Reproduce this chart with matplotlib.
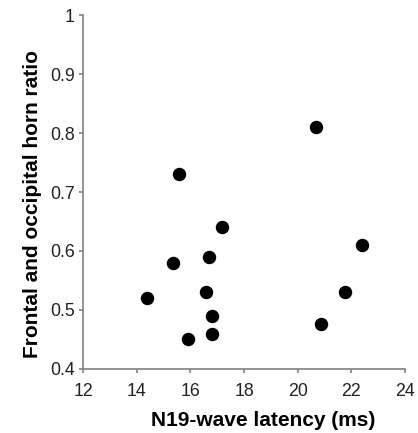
import matplotlib.pyplot as plt

plt.rcParams['font.family'] = ['Liberation Sans', 'DejaVu Sans']

latency = [14.37, 15.36, 15.59, 15.90, 16.59, 16.68, 16.79, 16.79, 17.16, 20.67, 20.88, 21.76, 22.38]
ratio = [0.52, 0.58, 0.73, 0.45, 0.53, 0.59, 0.49, 0.46, 0.64, 0.81, 0.476, 0.53, 0.61]

x_ticks = [12, 14, 16, 18, 20, 22, 24]
y_ticks = [0.4, 0.5, 0.6, 0.7, 0.8, 0.9, 1]
y_labels = ['0.4', '0.5', '0.6', '0.7', '0.8', '0.9', '1']

fig = plt.figure(figsize=(4.18, 4.33), dpi=100)
ax = fig.add_axes([0.199, 0.148, 0.77, 0.817])

ax.scatter(latency, ratio, s=75, color='black', zorder=3, clip_on=False)

ax.set_xlim(12, 24)
ax.set_ylim(0.4, 1)
ax.set_xticks(x_ticks)
ax.set_yticks(y_ticks)
ax.set_yticklabels(y_labels)

for side in ['top', 'right']:
    ax.spines[side].set_visible(False)
for side in ['left', 'bottom']:
    ax.spines[side].set_color('#808080')
    ax.spines[side].set_linewidth(1.2)

ax.tick_params(axis='both', colors='#808080', labelcolor='#222222', labelsize=12.8, length=3, width=1.2)
ax.tick_params(axis='y', pad=3)
ax.tick_params(axis='x', pad=7)

ax.set_xlabel('N19-wave latency (ms)', fontsize=15, fontweight='bold', labelpad=8)
ax.set_ylabel('Frontal and occipital horn ratio', fontsize=15, fontweight='bold', labelpad=5.5)
ax.xaxis.label.set_x(0.56)
ax.yaxis.label.set_y(0.466)

fig.savefig('out.png', dpi=100)
